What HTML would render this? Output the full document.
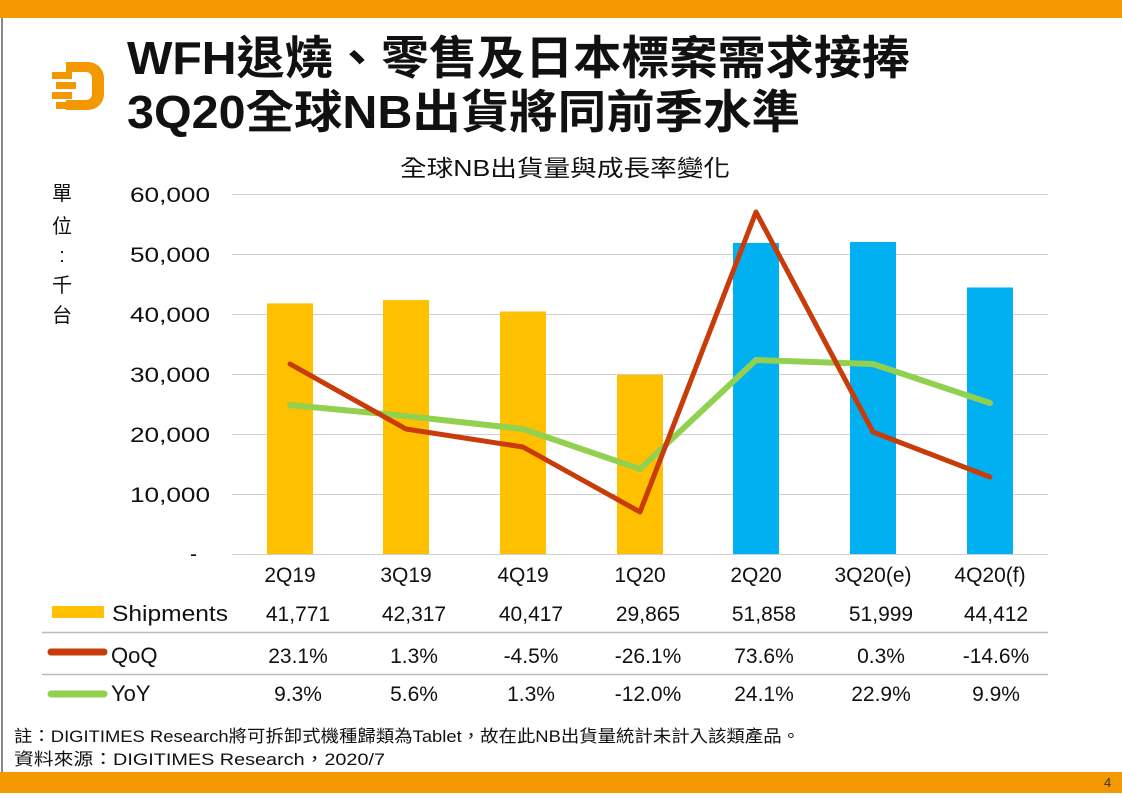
<!DOCTYPE html>
<html><head><meta charset="utf-8"><style>
body{margin:0;width:1122px;height:793px;overflow:hidden;background:#fff;font-family:"Liberation Sans","Noto Sans CJK TC",sans-serif;}
</style></head><body>
<svg width="1122" height="793" xmlns="http://www.w3.org/2000/svg" font-family="Liberation Sans, Noto Sans CJK TC, sans-serif">
<rect x="0" y="0" width="1122" height="18" fill="#F39800"/>
<rect x="0" y="772" width="1122" height="21" fill="#F39800"/>
<rect x="1" y="18" width="2" height="754" fill="#888"/>
<text x="1104" y="787" font-size="13" fill="#333">4</text>
<g fill="#F39800">
<path d="M66 62 h22 a16 16 0 0 1 16 16 v16 a16 16 0 0 1 -16 16 h-22 v-10 h20 a6 6 0 0 0 6 -6 v-16 a6 6 0 0 0 -6 -6 h-20z"/>
<rect x="52" y="72" width="20" height="7"/><rect x="56" y="82" width="20" height="7"/><rect x="52" y="92" width="20" height="7"/><rect x="56" y="102" width="14" height="7"/>
</g>
<g font-weight="bold" font-size="46" fill="#111">
<text x="127" y="74" textLength="783" lengthAdjust="spacingAndGlyphs">WFH退燒、零售及日本標案需求接捧</text>
<text x="127" y="128" textLength="673" lengthAdjust="spacingAndGlyphs">3Q20全球NB出貨將同前季水準</text>
</g>
<text x="400" y="176" font-size="23" fill="#111" textLength="330" lengthAdjust="spacingAndGlyphs">全球NB出貨量與成長率變化</text>
<g font-size="20" fill="#111" text-anchor="middle">
<text x="62" y="200">單</text><text x="62" y="233">位</text><text x="62" y="262">:</text><text x="62" y="292">千</text><text x="62" y="322">台</text>
</g>
<g stroke="#d0d0d0" stroke-width="1">
<line x1="232" x2="1048" y1="194.5" y2="194.5"/><line x1="232" x2="1048" y1="254.5" y2="254.5"/>
<line x1="232" x2="1048" y1="314.5" y2="314.5"/><line x1="232" x2="1048" y1="374.5" y2="374.5"/>
<line x1="232" x2="1048" y1="434.5" y2="434.5"/><line x1="232" x2="1048" y1="494.5" y2="494.5"/>
<line x1="232" x2="1048" y1="554.5" y2="554.5"/>
</g>
<g font-size="21" fill="#111">
<text x="130" y="202" textLength="80" lengthAdjust="spacingAndGlyphs">60,000</text><text x="130" y="262" textLength="80" lengthAdjust="spacingAndGlyphs">50,000</text><text x="130" y="322" textLength="80" lengthAdjust="spacingAndGlyphs">40,000</text>
<text x="130" y="382" textLength="80" lengthAdjust="spacingAndGlyphs">30,000</text><text x="130" y="442" textLength="80" lengthAdjust="spacingAndGlyphs">20,000</text><text x="130" y="502" textLength="80" lengthAdjust="spacingAndGlyphs">10,000</text>
<text x="190" y="561">-</text>
</g>
<g fill="#FFC000">
<rect x="267" y="303.4" width="46" height="250.6"/>
<rect x="383" y="300.1" width="46" height="253.9"/>
<rect x="500" y="311.5" width="46" height="242.5"/>
<rect x="617" y="374.8" width="46" height="179.2"/>
</g>
<g fill="#00B0F0">
<rect x="733" y="242.9" width="46" height="311.1"/>
<rect x="850" y="242" width="46" height="312"/>
<rect x="967" y="287.5" width="46" height="266.5"/>
</g>
<polyline fill="none" stroke="#92D050" stroke-width="6" stroke-linejoin="round" stroke-linecap="round" points="290,405 406,416 523,429 640,469 756,360 873,364 990,403"/>
<polyline fill="none" stroke="#C83C0A" stroke-width="5" stroke-linejoin="round" stroke-linecap="round" points="290,364 406,429 523,447 640,512 756,212 873,432 990,477"/>
<g font-size="21" fill="#111" text-anchor="middle">
<text x="290" y="582">2Q19</text><text x="406" y="582">3Q19</text><text x="523" y="582">4Q19</text><text x="640" y="582">1Q20</text><text x="756" y="582">2Q20</text><text x="873" y="582">3Q20(e)</text><text x="990" y="582">4Q20(f)</text>
<text x="298" y="621">41,771</text><text x="414" y="621">42,317</text><text x="531" y="621">40,417</text><text x="648" y="621">29,865</text><text x="764" y="621">51,858</text><text x="881" y="621">51,999</text><text x="996" y="621">44,412</text>
<text x="298" y="663">23.1%</text><text x="414" y="663">1.3%</text><text x="531" y="663">-4.5%</text><text x="648" y="663">-26.1%</text><text x="764" y="663">73.6%</text><text x="881" y="663">0.3%</text><text x="996" y="663">-14.6%</text>
<text x="298" y="701">9.3%</text><text x="414" y="701">5.6%</text><text x="531" y="701">1.3%</text><text x="648" y="701">-12.0%</text><text x="764" y="701">24.1%</text><text x="881" y="701">22.9%</text><text x="996" y="701">9.9%</text>
</g>
<g stroke="#bbb" stroke-width="1.5"><line x1="42" x2="1048" y1="632.5" y2="632.5"/><line x1="42" x2="1048" y1="674.5" y2="674.5"/></g>
<rect x="52" y="606" width="52" height="12" fill="#FFC000"/>
<line x1="51" x2="104" y1="652" y2="652" stroke="#C83C0A" stroke-width="7" stroke-linecap="round"/>
<line x1="51" x2="104" y1="694" y2="694" stroke="#92D050" stroke-width="7" stroke-linecap="round"/>
<g font-size="22" fill="#111"><text x="112" y="621" textLength="116" lengthAdjust="spacingAndGlyphs">Shipments</text><text x="111" y="663">QoQ</text><text x="111" y="701">YoY</text></g>
<g font-size="17" fill="#111"><text x="14" y="742" textLength="786" lengthAdjust="spacingAndGlyphs">註：DIGITIMES Research將可拆卸式機種歸類為Tablet，故在此NB出貨量統計未計入該類產品。</text>
<text x="14" y="765" textLength="371" lengthAdjust="spacingAndGlyphs">資料來源：DIGITIMES Research，2020/7</text></g>
</svg>
</body></html>
